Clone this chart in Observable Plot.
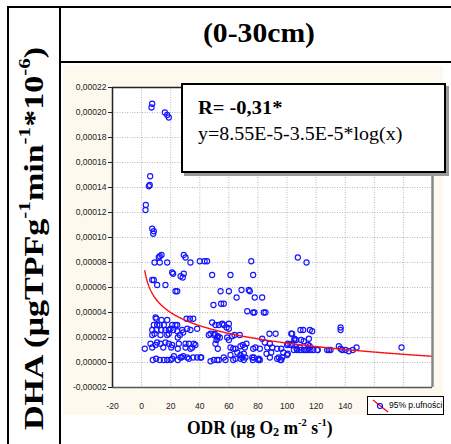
<!DOCTYPE html>
<html><head><meta charset="utf-8">
<script src="https://cdn.jsdelivr.net/npm/d3@7"></script>
<script src="https://cdn.jsdelivr.net/npm/@observablehq/plot@0.6"></script>
<style>
html,body{margin:0;padding:0;background:#fff;}
#root{position:relative;width:451px;height:444px;overflow:hidden;background:#fff;}
.serif{font-family:"Liberation Serif","Times New Roman",Times,serif;}
.ln{position:absolute;background:#000;}
#ytitle{position:absolute;left:34px;top:237px;white-space:nowrap;font-weight:bold;font-size:27px;line-height:1;}
#ytitle sup{font-size:0.62em;vertical-align:0.75em;line-height:0;}
#title{position:absolute;top:15px;white-space:nowrap;font-weight:bold;font-size:27px;line-height:1;}
#panel{position:absolute;left:63px;top:66px;width:380px;height:349px;background:#fdf9ee;}
#plot{position:absolute;left:63px;top:66px;}
#anno{position:absolute;left:181px;top:83px;width:261px;height:86px;border:2px solid #000;background:#fff;box-shadow:3px 3px 0 #9a9a9a;}
#anno .r{position:absolute;left:15px;top:12px;font-weight:bold;font-size:19px;white-space:nowrap;transform-origin:0 0;}
#anno .eq{position:absolute;left:15px;top:38px;font-size:19px;white-space:nowrap;transform-origin:0 0;}
#legend{position:absolute;left:367px;top:396px;width:75px;height:17px;border:1px solid #000;background:#fff;font-family:"Liberation Sans",Arial,sans-serif;font-size:8.5px;white-space:nowrap;}
#legend svg{position:absolute;left:2px;top:1px;}
#legend span{position:absolute;left:21px;top:3px;}
#xtitle{position:absolute;top:417px;white-space:nowrap;font-weight:bold;font-size:18px;line-height:1;}
#xtitle sup{font-size:0.6em;vertical-align:0.7em;line-height:0;}
#xtitle sub{font-size:0.7em;vertical-align:-0.15em;line-height:0;}
</style></head>
<body><div id="root">
<div class="ln" style="left:7px;top:6px;width:444px;height:2px;"></div>
<div class="ln" style="left:7px;top:6px;width:2px;height:438px;"></div>
<div class="ln" style="left:59px;top:6px;width:2px;height:438px;"></div>
<div class="ln" style="left:59px;top:61px;width:392px;height:2px;"></div>
<div id="ytitle" class="serif">DHA (µgTPFg<sup>-1</sup>min<sup>-1</sup>*10<sup>-6</sup>)</div>
<div id="title" class="serif">(0-30cm)</div>
<div id="panel"></div>
<div id="plot"></div>
<div id="anno" class="serif"><div class="r" id="annoR">R= -0,31*</div><div class="eq" id="annoEq">y=8.55E-5-3.5E-5*log(x)</div></div>
<div id="legend"><svg width="20" height="15"><line x1="3" y1="2" x2="18" y2="14" stroke="red" stroke-width="1.2"/><circle cx="10" cy="8" r="2.5" fill="none" stroke="blue" stroke-width="1.1"/></svg><span>95% p.ufności</span></div>
<div id="xtitle" class="serif">ODR (µg O<sub>2</sub> m<sup>-2</sup> s<sup>-1</sup>)</div>
</div>
<script>
// ODR values (x) and DHA values in units of 1e-6 (y)
const odr = [
6.8,7.3,16,17.6,18.7,5.9,5,5.6,2.9,2.7,7.3,8.4,8.0,
12.5,13.7,11.8,8.9,12.5,17.6,29,30.2,33.6,40,43.3,45,75.4,107.4,113.4,
48.5,61.1,76.7,7.3,8.4,10.7,16.4,21,21.7,26.8,29,28.3,23.3,24.5,
54.3,60,68.7,73.7,74.4,49.4,54.7,56.5,65.3,77.8,82.9,72.6,76.7,77.6,84,85.2,
9.6,10.2,13.7,17.6,8.4,10.7,12.5,15.3,21,23.3,24.5,7.3,10.2,13.5,16.4,
18.7,19.9,21.7,24.5,27.9,7.3,8.9,13,17.6,18.7,24.9,26.3,30.9,33.2,35.5,
31.4,33.6,28.6,38.2,46.2,50.3,52.4,51.5,2.2,6.1,7.3,9.6,10.7,13,14.9,
16.4,18.7,21,20.4,25.6,24.9,30.2,32.5,35.9,30.2,33.6,37,34.8,
7.7,10,12.5,15.3,17.6,19.9,21,22.2,24.9,27.4,28.6,32.5,35.5,38.2,41,
47.4,49.7,52,26.7,31.3,40.5,
48.5,50.8,53.1,55.4,56.5,58.4,60,60,47.4,49.7,52,53.8,58.8,60,50.8,52.4,
62.3,63.9,67.5,61.1,63,64.6,68,69.6,71,72.1,65.8,68,70.3,71.4,
76.7,78.3,81.3,77.1,80.6,81.3,82.9,84.7,86.4,88.2,89.8,89.1,87.9,92.1,85.9,88.2,
93.2,96,97.4,94.3,96,100.5,103.5,100.5,102.9,103.5,105.1,
106.5,108.8,109.2,111.1,112.7,115,115.7,117.3,115,116.1,121.1,
56.5,57.7,53.1,61.1,63,64.6,68,69.2,70.3,76.1,76.5,80.2,93.2,95.5,96.7,100,
105.1,106.3,109.7,111.5,114.5,115.6,100,102.4,104.7,107,109.3,111.5,113.9,118,120.8,
127.6,129.9,128.8,135.6,136.8,137.9,140.2,142.4,145.2,147.8,136.8,136.8,178.7
];
const dhaE6 = [
204,207,200,198,196,149,141,142,126,122,107,105,103,
85,86,84,80,80,80,86,84,80,81,81,81,81,84,80,
70,70,70,66,66,62,62,72,71,69,71,68,57,57,
57,57,58,58,57,46,47,47,52,52,52,41,40,40,40,40,
36,35,34,34,30,30,30,30,30,30,30,26,26,26,26,
26,27,26,25,26,22,23,22,22,23,20,22,35,35,35,
27,26,24,27,22,23,21,18,11,15,12,14,16,15,12,
16,15,14,12,15,11,15,15,15,12,11,14,12,
2,3,2,2,2,2,3,5,2,4,5,3,4,4,4,
1,2,2,4,4,4,
32,30,30,31,30,28,31,27,23,22,20,20,20,18,15,11,
21,22,22,12,11,11,13,14,12,15,8,6,7,4,
11,12,11,4,3,2,19,16,12,15,12,8,23,23,7,4,
11,11,8,4,2,15,15,7,23,23,19,
11,12,26,26,10,19,26,25,11,10,10,
4,2,2,6,2,3,3,4,2,4,2,2,3,2,4,6,
18,18,18,17,14,13,14,14,10,10,10,10,10,10,10,
10,10,10,13,11,10,10,9,10,12,28,26,12
];
const xTicks = [-20,0,20,40,60,80,100,120,140];
const xGrid = [0,20,40,60,80,100,120,140,160,180];
const yTicks = [-0.00002,0,0.00002,0.00004,0.00006,0.00008,0.00010,0.00012,0.00014,0.00016,0.00018,0.00020,0.00022];
const fitCoef = [8.55e-5, -3.5e-5]; // y = a + b*log10(x)
const fitRange = [2.2, 200];

const pts = odr.map((x,i)=>({x, y: dhaE6[i]*1e-6}));
const curve = d3.range(fitRange[0], fitRange[1]+0.001, 0.4).map(x=>({x, y: fitCoef[0]+fitCoef[1]*Math.log10(x)}));

const chart = Plot.plot({
  width: 380, height: 349,
  marginLeft: 49, marginRight: 11, marginTop: 21, marginBottom: 28,
  style: {background: "transparent", fontFamily: "'Liberation Sans', Arial, sans-serif", fontSize: "8.5px", color: "#222"},
  x: {domain: [-20, 200], ticks: xTicks, tickFormat: d => String(d), label: null, tickSize: 0, tickPadding: 15},
  y: {domain: [-0.00002, 0.00022], ticks: yTicks, tickFormat: d => d.toFixed(5).replace(".", ","), label: null, tickSize: 4, tickPadding: 2},
  marks: [
    Plot.frame({fill: "white"}),
    Plot.ruleX(xGrid, {stroke: "#b8b8b8", strokeDasharray: "1,1.5"}),
    Plot.ruleY(yTicks.slice(1, -1), {stroke: "#b8b8b8", strokeDasharray: "1,1.5"}),
    Plot.dot(pts, {x: "x", y: "y", r: 2.6, stroke: "#1414ff", strokeWidth: 1.1}),
    Plot.line(curve, {x: "x", y: "y", stroke: "#ff1010", strokeWidth: 1.4}),
    Plot.ruleX([200], {stroke: "#888", strokeWidth: 2.5}),
    Plot.ruleY([-0.00002], {stroke: "#555", strokeWidth: 1.5}),
    Plot.ruleX([-20], {stroke: "#222", strokeWidth: 1.5}),
    Plot.ruleY([0.00022], {stroke: "#222", strokeWidth: 1.5})
  ]
});
document.getElementById("plot").appendChild(chart);

// fit text blocks to the reference extents
function fit(id, cx, cy, len, rotate) {
  const el = document.getElementById(id);
  const w = el.offsetWidth, h = el.offsetHeight;
  const s = len / w;
  el.style.left = (cx - w/2) + "px";
  el.style.top = (cy - h/2) + "px";
  el.style.transform = (rotate ? "rotate(-90deg) " : "") + "scaleX(" + s + ")";
}
function fitLeft(id, len) {
  const el = document.getElementById(id);
  el.style.transform = "scaleX(" + (len / el.offsetWidth) + ")";
}
fit("ytitle", 34, 238, 383, true);
fit("title", 259, 33, 112, false);
fit("xtitle", 260, 428, 146, false);
fitLeft("annoR", 84);
fitLeft("annoEq", 204);
</script>
</body></html>
